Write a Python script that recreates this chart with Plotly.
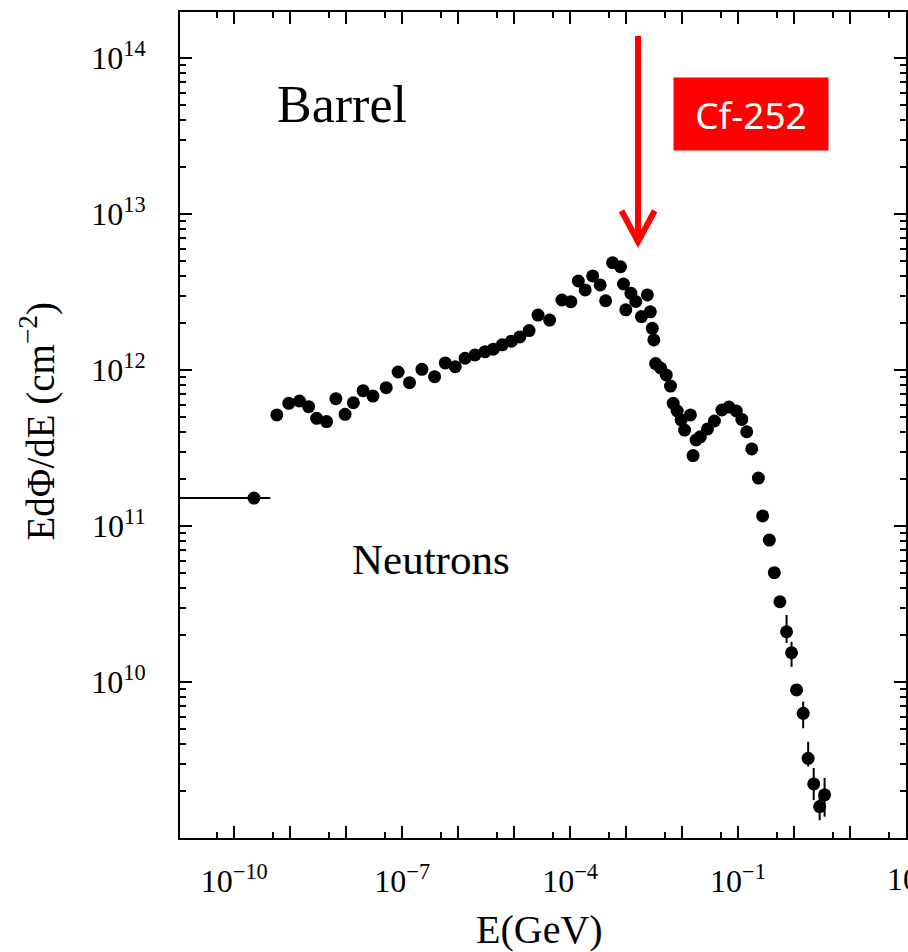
import plotly.graph_objects as go

# ---- data ----
# Isolated low-energy (thermal) bin with a wide horizontal error bar
thermal_E = [2.25e-10]
thermal_flux = [1.51e11]
thermal_E_low = [1.0e-11]
thermal_E_high = [4.4e-10]

# Main spectrum: E (GeV) and E dPhi/dE (cm^-2)
energy = [
    5.75e-10, 9.4e-10, 1.46e-9, 2.13e-9, 2.96e-9, 4.45e-9, 6.53e-9, 9.55e-9,
    1.34e-8, 2.0e-8, 3.0e-8, 5.18e-8, 8.45e-8, 1.35e-7, 2.25e-7, 3.79e-7,
    5.87e-7, 8.85e-7, 1.33e-6, 2.0e-6, 3.02e-6, 4.24e-6, 6.12e-6, 8.95e-6,
    1.26e-5, 1.85e-5, 2.67e-5, 4.3e-5, 7.13e-5, 1.03e-4, 1.40e-4, 1.86e-4,
    2.53e-4, 3.44e-4, 4.31e-4, 5.73e-4, 7.96e-4, 9.0e-4, 9.89e-4, 1.22e-3,
    1.49e-3, 1.88e-3, 2.40e-3, 2.71e-3, 2.94e-3, 3.13e-3, 3.37e-3, 4.13e-3,
    5.22e-3, 6.22e-3, 6.95e-3, 8.19e-3, 9.64e-3, 1.11e-2, 1.41e-2, 1.57e-2,
    1.78e-2, 2.12e-2, 2.85e-2, 3.79e-2, 5.15e-2, 6.87e-2, 9.33e-2, 0.117,
    0.143, 0.176, 0.231, 0.275, 0.362, 0.445, 0.560, 0.736,
    0.904, 1.11, 1.46, 1.79, 2.25, 2.87, 3.52,
]
flux = [
    5.15e11, 6.12e11, 6.33e11, 5.82e11, 4.90e11, 4.67e11, 6.55e11, 5.20e11,
    6.17e11, 7.37e11, 6.81e11, 7.71e11, 9.71e11, 8.29e11, 1.01e12, 9.06e11,
    1.11e12, 1.05e12, 1.19e12, 1.25e12, 1.31e12, 1.36e12, 1.45e12, 1.53e12,
    1.63e12, 1.79e12, 2.25e12, 2.09e12, 2.81e12, 2.74e12, 3.72e12, 3.26e12,
    4.01e12, 3.51e12, 2.78e12, 4.87e12, 4.59e12, 3.56e12, 2.43e12, 3.10e12,
    2.75e12, 2.20e12, 3.03e12, 2.36e12, 1.85e12, 1.56e12, 1.10e12, 1.03e12,
    9.29e11, 7.89e11, 6.12e11, 5.46e11, 4.78e11, 4.12e11, 5.15e11, 2.83e11,
    3.56e11, 3.73e11, 4.19e11, 4.71e11, 5.54e11, 5.79e11, 5.46e11, 4.82e11,
    4.02e11, 3.12e11, 2.03e11, 1.16e11, 8.13e10, 5.02e10, 3.27e10, 2.10e10,
    1.54e10, 8.89e9, 6.30e9, 3.24e9, 2.22e9, 1.59e9, 1.89e9,
]
# Upper / lower ends of the vertical error bars (None = no visible bar)
flux_high = [None] * 71 + [2.69e10, 1.81e10, None, 7.48e9, 4.14e9, 2.81e9, 1.84e9, 2.43e9]
flux_low = [None] * 71 + [1.78e10, 1.25e10, None, 5.05e9, 2.87e9, 1.75e9, 1.30e9, 1.37e9]

# Axis ticks
x_tick_exp = list(range(-10, 3))
x_labeled_exp = [-10, -7, -4, -1, 2]
y_tick_exp = [10, 11, 12, 13, 14]

# ---- derived error arrays ----
err_plus = [(h - f) if h is not None else 0 for h, f in zip(flux_high, flux)]
err_minus = [(f - l) if l is not None else 0 for l, f in zip(flux_low, flux)]
th_plus = [h - e for h, e in zip(thermal_E_high, thermal_E)]
th_minus = [e - l for l, e in zip(thermal_E_low, thermal_E)]

SERIF = "Liberation Serif, Times New Roman, serif"

fig = go.Figure()
fig.add_trace(go.Scatter(
    x=thermal_E, y=thermal_flux, mode="markers",
    marker=dict(color="black", size=13),
    error_x=dict(type="data", symmetric=False, array=th_plus, arrayminus=th_minus,
                 color="black", thickness=2, width=0),
    showlegend=False, cliponaxis=True,
))
fig.add_trace(go.Scatter(
    x=energy, y=flux, mode="markers",
    marker=dict(color="black", size=13),
    error_y=dict(type="data", symmetric=False, array=err_plus, arrayminus=err_minus,
                 color="black", thickness=2, width=0),
    showlegend=False, cliponaxis=True,
))

def pow_label(e):
    return "10<sup>" + (str(e) if e >= 0 else "\u2212" + str(-e)) + "</sup>"

x_minor = [5 * 10.0 ** k for k in range(-11, 2)]

X_RANGE = [-10.97, 2.001]
fig.update_xaxes(
    type="log", range=X_RANGE,
    tickvals=[10.0 ** e for e in x_tick_exp],
    ticktext=[pow_label(e) if e in x_labeled_exp else "" for e in x_tick_exp],
    ticks="inside", ticklen=12, tickwidth=2, tickcolor="black",
    minor=dict(tickvals=x_minor, ticks="inside", ticklen=6, tickwidth=2, tickcolor="black"),
    showline=True, linecolor="black", linewidth=2, mirror="allticks",
    showgrid=False, zeroline=False,
    tickfont=dict(family=SERIF, size=32, color="black"),
    ticklabelstandoff=14,
)
fig.update_yaxes(
    type="log", range=[9.0, 14.295],
    tickvals=[10.0 ** e for e in y_tick_exp],
    ticktext=[pow_label(e) for e in y_tick_exp],
    ticks="inside", ticklen=12, tickwidth=2, tickcolor="black",
    minor=dict(dtick="D1", ticks="inside", ticklen=6, tickwidth=2, tickcolor="black"),
    showline=True, linecolor="black", linewidth=2, mirror="allticks",
    showgrid=False, zeroline=False,
    tickfont=dict(family=SERIF, size=32, color="black"),
    ticklabelstandoff=26,
)

# paper position of the (cut-off) 10^2 label at the right edge
last_exp = x_labeled_exp[-1]
x_last_paper = (last_exp - X_RANGE[0]) / (X_RANGE[1] - X_RANGE[0]) + 0.003

annotations = [
    dict(text=pow_label(last_exp), x=x_last_paper, y=-0.0472, xref="paper", yref="paper",
         xanchor="center", yanchor="middle", showarrow=False,
         font=dict(family=SERIF, size=32, color="black")),
    dict(text="Barrel", x=0.1305, y=0.8886, xref="paper", yref="paper",
         xanchor="left", yanchor="middle", showarrow=False,
         font=dict(family=SERIF, size=52, color="black")),
    dict(text="Neutrons", x=0.2335, y=0.3366, xref="paper", yref="paper",
         xanchor="left", yanchor="middle", showarrow=False,
         font=dict(family=SERIF, size=43, color="black")),
    dict(text="E(GeV)", x=0.4945, y=-0.111, xref="paper", yref="paper",
         xanchor="center", yanchor="middle", showarrow=False,
         font=dict(family=SERIF, size=40, color="black")),
    dict(text="Ed\u03a6/dE (cm<sup>\u22122</sup>)", x=-0.1964, y=0.5048,
         xref="paper", yref="paper", textangle=-90,
         xanchor="center", yanchor="middle", showarrow=False,
         font=dict(family=SERIF, size=39, color="black")),
    dict(text="Cf-252", x=0.787, y=0.8765, xref="paper", yref="paper",
         xanchor="center", yanchor="middle", showarrow=False,
         width=154, height=72, bgcolor="#ff0000", borderpad=0,
         font=dict(family="Noto Sans, Open Sans, sans-serif", size=37, color="white")),
]

red = "#ff0000"
shapes = [
    dict(type="line", xref="paper", yref="paper", x0=0.6309, x1=0.6309, y0=0.9709, y1=0.727,
         line=dict(color=red, width=6)),
    dict(type="path", xref="paper", yref="paper",
         path="M 0.6081 0.7594 L 0.6309 0.7219 L 0.6538 0.7594",
         line=dict(color=red, width=6)),
]

fig.update_layout(
    width=908, height=952,
    margin=dict(l=180, r=0, t=12, b=114),
    paper_bgcolor="white", plot_bgcolor="white",
    annotations=annotations, shapes=shapes,
    showlegend=False,
)

fig.write_html("out.html")
